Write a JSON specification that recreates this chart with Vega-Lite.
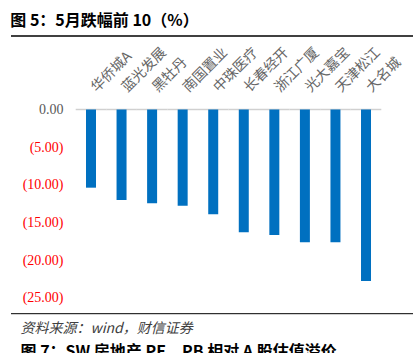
{
  "$schema": "https://vega.github.io/schema/vega-lite/v6.json",
  "padding": {"left": 10, "top": 13, "right": 7, "bottom": 0},
  "background": "white",
  "config": {"view": {"stroke": null}, "font": "Noto Sans CJK SC"},
  "spacing": 63.5,
  "bounds": "flush",
  "vconcat": [
    {
      "width": 402,
      "height": 10,
      "title": {"text": "图 5：5月跌幅前 10（%）", "anchor": "start", "fontSize": 16, "fontWeight": "bold", "color": "black", "offset": 6, "font": "Noto Sans CJK SC"},
      "data": {"values": [{"v": 1}]},
      "mark": {"type": "rule", "color": "black", "strokeWidth": 1.5},
      "encoding": {"y": {"field": "v", "type": "quantitative", "axis": null, "scale": {"domain": [0, 1]}}}
    },
    {
      "spacing": 15.2,
      "bounds": "flush",
      "vconcat": [
        {
          "width": 402,
          "height": 188.3,
          "data": {"values": [
            {"name": "华侨城A", "value": -10.38},
            {"name": "蓝光发展", "value": -12.02},
            {"name": "黑牡丹", "value": -12.46},
            {"name": "南国置业", "value": -12.78},
            {"name": "中珠医疗", "value": -13.92},
            {"name": "长春经开", "value": -16.31},
            {"name": "浙江广厦", "value": -16.67},
            {"name": "光大嘉宝", "value": -17.64},
            {"name": "天津松江", "value": -17.62},
            {"name": "大名城", "value": -22.78}
          ]},
          "encoding": {
            "x": {
              "field": "name", "type": "nominal", "sort": null,
              "scale": {"range": [65, 370], "paddingInner": 0.673, "paddingOuter": 0.327},
              "axis": {"orient": "top", "title": null, "labelAngle": -45, "labelAlign": "left", "labelBaseline": "middle", "labelPadding": 20, "labelOffset": 3, "ticks": false, "domain": false, "labelFont": "Noto Sans CJK SC", "labelFontSize": 14, "labelColor": "#666666", "labelOverlap": false}
            }
          },
          "layer": [
            {
              "mark": {"type": "tick", "color": "#d0d0d0", "size": 30.6, "thickness": 1.5, "opacity": 1},
              "encoding": {"y": {"datum": 0, "type": "quantitative",
                  "scale": {"domain": [-25, 0], "nice": false},
                  "axis": {"values": [0, -5, -10, -15, -20, -25], "title": null, "domain": false, "ticks": false, "grid": false, "offset": -54, "labelPadding": 2, "labelFont": "Liberation Serif", "labelFontSize": 14, "labelAlign": "right", "labelBaseline": "middle",
                    "labelExpr": "datum.value < 0 ? '(' + format(-datum.value, '.2f') + ')' : format(datum.value, '.2f') + '\u00a0'",
                    "labelColor": {"condition": {"test": "datum.value < 0", "value": "#ff0000"}, "value": "#595959"}}}}
            },
            {
              "mark": {"type": "bar", "color": "#0070C0"},
              "encoding": {
                "y": {
                  "field": "value", "type": "quantitative",
                  "scale": {"domain": [-25, 0], "nice": false},
                  "axis": {"values": [0, -5, -10, -15, -20, -25], "title": null, "domain": false, "ticks": false, "grid": false, "offset": -54, "labelPadding": 2, "labelFont": "Liberation Serif", "labelFontSize": 14, "labelAlign": "right", "labelBaseline": "middle",
                    "labelExpr": "datum.value < 0 ? '(' + format(-datum.value, '.2f') + ')' : format(datum.value, '.2f') + '\u00a0'",
                    "labelColor": {"condition": {"test": "datum.value < 0", "value": "#ff0000"}, "value": "#595959"}}
                }
              }
            }
          ]
        },
        {
          "width": 402,
          "height": 10,
          "data": {"values": [{"v": 1}]},
          "mark": {"type": "rule", "color": "black", "strokeWidth": 1},
          "encoding": {"y": {"field": "v", "type": "quantitative", "axis": null, "scale": {"domain": [0, 1]}}},
          "title": {"text": "资料来源：wind，财信证券", "subtitle": "图 7：SW 房地产 PE、PB 相对 A 股估值溢价", "orient": "bottom", "anchor": "start", "dx": 10, "offset": -2, "font": "Noto Sans CJK SC", "fontStyle": "italic", "fontWeight": "normal", "fontSize": 14, "color": "#404040", "subtitleFont": "Noto Sans CJK SC", "subtitleFontWeight": "bold", "subtitleFontSize": 16, "subtitleColor": "black", "subtitlePadding": 8}
        }
      ]
    }
  ]
}
